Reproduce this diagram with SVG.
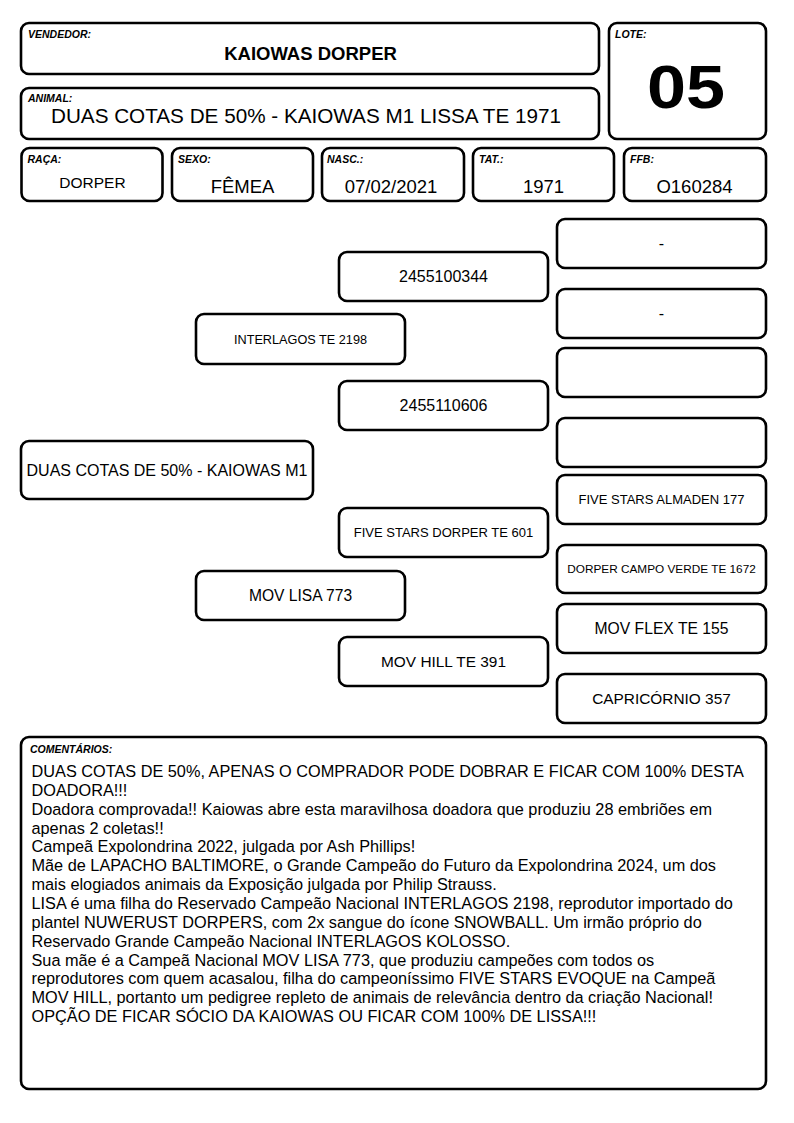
<svg xmlns="http://www.w3.org/2000/svg" width="794" height="1123" viewBox="0 0 794 1123">
<style>
.box{fill:#fff;stroke:#000;stroke-width:2.6}
.lbl{font-family:"Liberation Sans",Arial,sans-serif;font-size:10.5px;font-weight:bold;font-style:italic;fill:#000}
.t{font-family:"Liberation Sans",Arial,sans-serif;fill:#000;text-anchor:middle}
.c{font-family:"Liberation Sans",Arial,sans-serif;font-size:16.3px;fill:#000}
</style>
<rect width="794" height="1123" fill="#fff"/>
<g id="vendedor">
<rect class="box" x="21" y="23" width="578" height="51" rx="8"/>
<text class="lbl" x="28" y="38">VENDEDOR:</text>
<text class="t" x="310.5" y="60" font-size="18.5" font-weight="bold">KAIOWAS DORPER</text>
</g>
<g id="animal">
<rect class="box" x="21" y="88" width="578" height="51" rx="8"/>
<text class="lbl" x="28" y="102">ANIMAL:</text>
<text class="t" x="306" y="123" font-size="20.7">DUAS COTAS DE 50% - KAIOWAS M1 LISSA TE 1971</text>
</g>
<g id="lote">
<rect class="box" x="609" y="23" width="157" height="116" rx="8"/>
<text class="lbl" x="615" y="38">LOTE:</text>
<text class="t" x="686" y="108" font-size="62" font-weight="bold" textLength="78" lengthAdjust="spacingAndGlyphs">05</text>
</g>
<g id="raca">
<rect class="box" x="21.5" y="148" width="141" height="53" rx="8"/>
<text class="lbl" x="27.5" y="162.5">RAÇA:</text>
<text class="t" x="92.5" y="188" font-size="15.5">DORPER</text>
</g>
<g id="sexo">
<rect class="box" x="172" y="148" width="141" height="53" rx="8"/>
<text class="lbl" x="178" y="162.5">SEXO:</text>
<text class="t" x="242.5" y="193" font-size="18.5">FÊMEA</text>
</g>
<g id="nasc">
<rect class="box" x="322" y="148" width="142" height="53" rx="8"/>
<text class="lbl" x="327" y="162.5">NASC.:</text>
<text class="t" x="391" y="193" font-size="18.5">07/02/2021</text>
</g>
<g id="tat">
<rect class="box" x="473" y="148" width="141" height="53" rx="8"/>
<text class="lbl" x="479" y="162.5">TAT.:</text>
<text class="t" x="543.5" y="193" font-size="18.5">1971</text>
</g>
<g id="ffb">
<rect class="box" x="624" y="148" width="142" height="53" rx="8"/>
<text class="lbl" x="630" y="162.5">FFB:</text>
<text class="t" x="694.5" y="193" font-size="18.5">O160284</text>
</g>
<g id="connectors"></g>
<g id="animal-node">
<rect class="box" x="21" y="441" width="292" height="58" rx="8"/>
<text class="t" x="167" y="475.7" font-size="16">DUAS COTAS DE 50% - KAIOWAS M1</text>
</g>
<g id="pai">
<rect class="box" x="196" y="314" width="209" height="50" rx="8"/>
<text class="t" x="300.5" y="343.5" font-size="12.7">INTERLAGOS TE 2198</text>
</g>
<g id="mae">
<rect class="box" x="196" y="571" width="209" height="49" rx="8"/>
<text class="t" x="300.5" y="601" font-size="15.6">MOV LISA 773</text>
</g>
<g id="avo-pp">
<rect class="box" x="339" y="252" width="209" height="49" rx="8"/>
<text class="t" x="443.5" y="282" font-size="16">2455100344</text>
</g>
<g id="avo-pm">
<rect class="box" x="339" y="381" width="209" height="49" rx="8"/>
<text class="t" x="443.5" y="411" font-size="16">2455110606</text>
</g>
<g id="avo-mp">
<rect class="box" x="339" y="508" width="209" height="49" rx="8"/>
<text class="t" x="443.5" y="537" font-size="13">FIVE STARS DORPER TE 601</text>
</g>
<g id="avo-mm">
<rect class="box" x="339" y="637" width="209" height="49" rx="8"/>
<text class="t" x="443.5" y="667" font-size="15.4">MOV HILL TE 391</text>
</g>
<g id="bis1">
<rect class="box" x="557" y="219" width="209" height="49" rx="8"/>
<text class="t" x="661.5" y="249" font-size="16">-</text>
</g>
<g id="bis2">
<rect class="box" x="557" y="289" width="209" height="49" rx="8"/>
<text class="t" x="661.5" y="319" font-size="16">-</text>
</g>
<g id="bis3">
<rect class="box" x="557" y="348" width="209" height="49" rx="8"/>
</g>
<g id="bis4">
<rect class="box" x="557" y="418" width="209" height="49" rx="8"/>
</g>
<g id="bis5">
<rect class="box" x="557" y="475" width="209" height="49" rx="8"/>
<text class="t" x="661.5" y="504" font-size="13">FIVE STARS ALMADEN 177</text>
</g>
<g id="bis6">
<rect class="box" x="557" y="545" width="209" height="48" rx="8"/>
<text class="t" x="661.5" y="573.3" font-size="11.8">DORPER CAMPO VERDE TE 1672</text>
</g>
<g id="bis7">
<rect class="box" x="557" y="604" width="209" height="49" rx="8"/>
<text class="t" x="661.5" y="634" font-size="15.7">MOV FLEX TE 155</text>
</g>
<g id="bis8">
<rect class="box" x="557" y="674" width="209" height="49" rx="8"/>
<text class="t" x="661.5" y="704" font-size="15.4">CAPRICÓRNIO 357</text>
</g>
<g id="comentarios">
<rect class="box" x="21" y="737" width="745" height="352" rx="8"/>
<text class="lbl" x="30" y="752.5">COMENTÁRIOS:</text>
<text class="c" x="31.5" y="777">DUAS COTAS DE 50%, APENAS O COMPRADOR PODE DOBRAR E FICAR COM 100% DESTA</text>
<text class="c" x="31.5" y="795.85">DOADORA!!!</text>
<text class="c" x="31.5" y="814.7">Doadora comprovada!! Kaiowas abre esta maravilhosa doadora que produziu 28 embriões em</text>
<text class="c" x="31.5" y="833.55">apenas 2 coletas!!</text>
<text class="c" x="31.5" y="852.4">Campeã Expolondrina 2022, julgada por Ash Phillips!</text>
<text class="c" x="31.5" y="871.25">Mãe de LAPACHO BALTIMORE, o Grande Campeão do Futuro da Expolondrina 2024, um dos</text>
<text class="c" x="31.5" y="890.1">mais elogiados animais da Exposição julgada por Philip Strauss.</text>
<text class="c" x="31.5" y="908.95">LISA é uma filha do Reservado Campeão Nacional INTERLAGOS 2198, reprodutor importado do</text>
<text class="c" x="31.5" y="927.8">plantel NUWERUST DORPERS, com 2x sangue do ícone SNOWBALL. Um irmão próprio do</text>
<text class="c" x="31.5" y="946.65">Reservado Grande Campeão Nacional INTERLAGOS KOLOSSO.</text>
<text class="c" x="31.5" y="965.5">Sua mãe é a Campeã Nacional MOV LISA 773, que produziu campeões com todos os</text>
<text class="c" x="31.5" y="984.35">reprodutores com quem acasalou, filha do campeoníssimo FIVE STARS EVOQUE na Campeã</text>
<text class="c" x="31.5" y="1003.2">MOV HILL, portanto um pedigree repleto de animais de relevância dentro da criação Nacional!</text>
<text class="c" x="31.5" y="1022.05">OPÇÃO DE FICAR SÓCIO DA KAIOWAS OU FICAR COM 100% DE LISSA!!!</text>
</g>
</svg>
